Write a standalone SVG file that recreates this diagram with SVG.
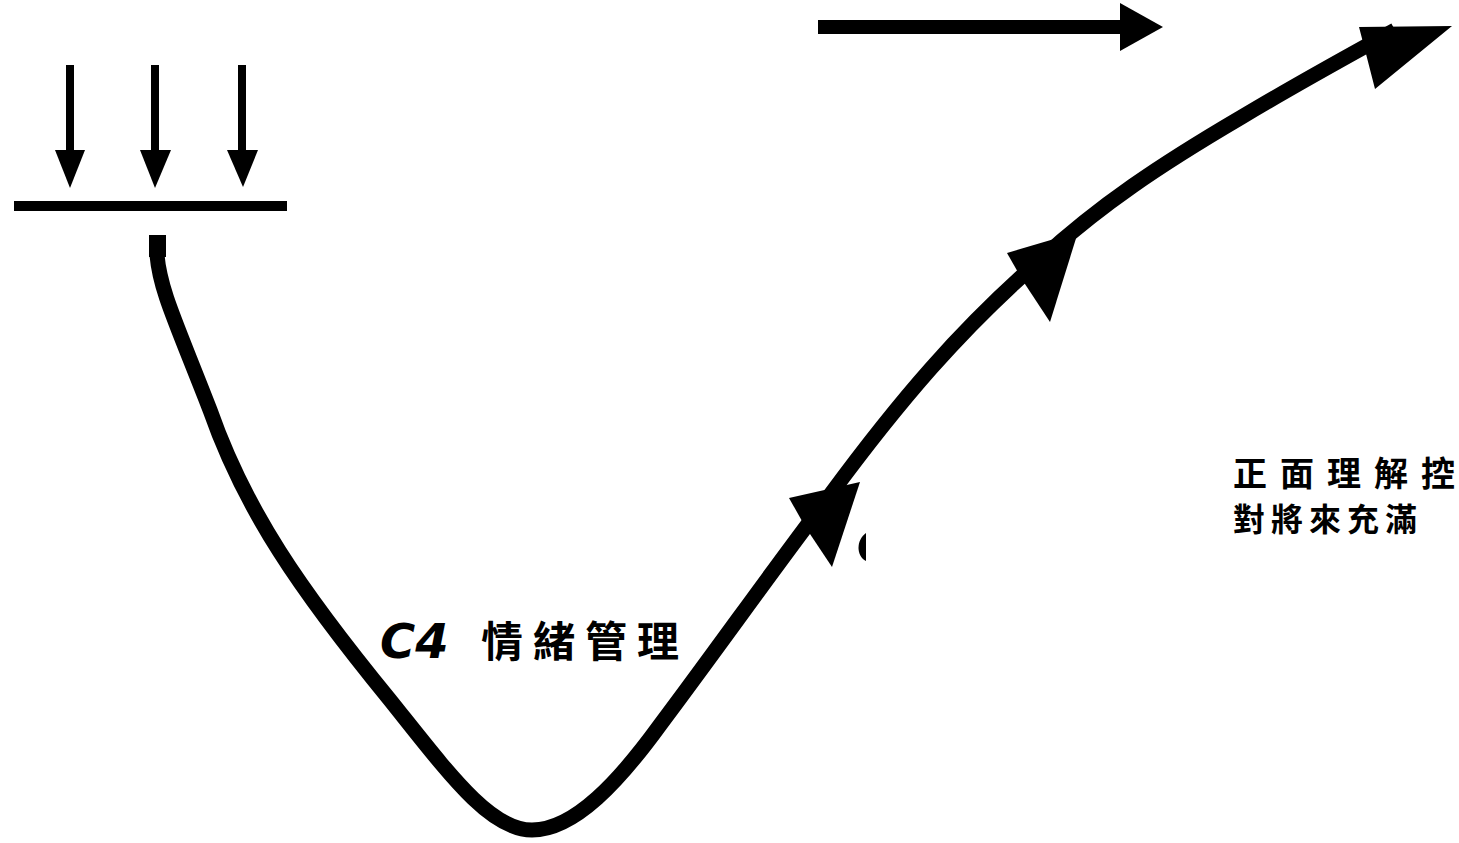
<svg xmlns="http://www.w3.org/2000/svg" width="1459" height="843" viewBox="0 0 1459 843">
<style>
.ln{stroke:#000;fill:none}
.hd{fill:#000}
.cjk{font-family:"Noto Sans CJK TC","Noto Sans CJK SC",sans-serif;font-weight:700;fill:#000}
</style>
<rect width="1459" height="843" fill="#fff"/>
<g id="connectors">
  <line class="ln" x1="70" y1="65" x2="70" y2="152" stroke-width="8"/>
  <polygon class="hd" points="55,150 85,150 70,188"/>
  <line class="ln" x1="155" y1="65" x2="155" y2="152" stroke-width="8"/>
  <polygon class="hd" points="140,150 171,150 155,188"/>
  <line class="ln" x1="242" y1="65" x2="242" y2="152" stroke-width="8"/>
  <polygon class="hd" points="227,150 258,150 243,187"/>
  <line class="ln" x1="818" y1="27" x2="1124" y2="27" stroke-width="14"/>
  <polygon class="hd" points="1120,3 1163,27 1120,51"/>
  <path class="ln" stroke-width="15" stroke-linejoin="round" d="M157,235 L157,255 C160,290 175,320 210,410 C245,510 300,590 390,700 C450,775 490,830 532,830 C575,830 620,780 660,725 C720,645 780,560 830,495 C900,400 960,330 1040,260 C1100,205 1160,165 1240,118 C1300,82 1350,55 1395,30"/>
  <rect x="149" y="235" width="17" height="22" fill="#000"/>
  <polygon class="hd" points="860,482 789,498 806,528 832,567"/>
  <polygon class="hd" points="1078,232 1007,253 1023,281 1050,322"/>
  <polygon class="hd" points="1452,26 1359,27 1365,50 1375,89"/>
</g>
<g id="base">
  <line class="ln" x1="14" y1="206" x2="287" y2="206" stroke-width="10"/>
</g>
<g id="c4">
  <text x="380" y="658" font-family="'DejaVu Sans',sans-serif" font-weight="700" font-style="italic" font-size="48">C4</text>
  <text x="481" y="657" class="cjk" font-size="42" letter-spacing="10">情緒管理</text>
</g>
<g id="mark">
  <path d="M866,533 C856,540 856,556 866,561 Z" fill="#000"/>
</g>
<g id="positive">
  <text x="1233" y="486" class="cjk" font-size="34" font-weight="500" letter-spacing="13">正面理解控</text>
  <text x="1233" y="531" class="cjk" font-size="32" letter-spacing="6">對將來充滿</text>
</g>
</svg>
